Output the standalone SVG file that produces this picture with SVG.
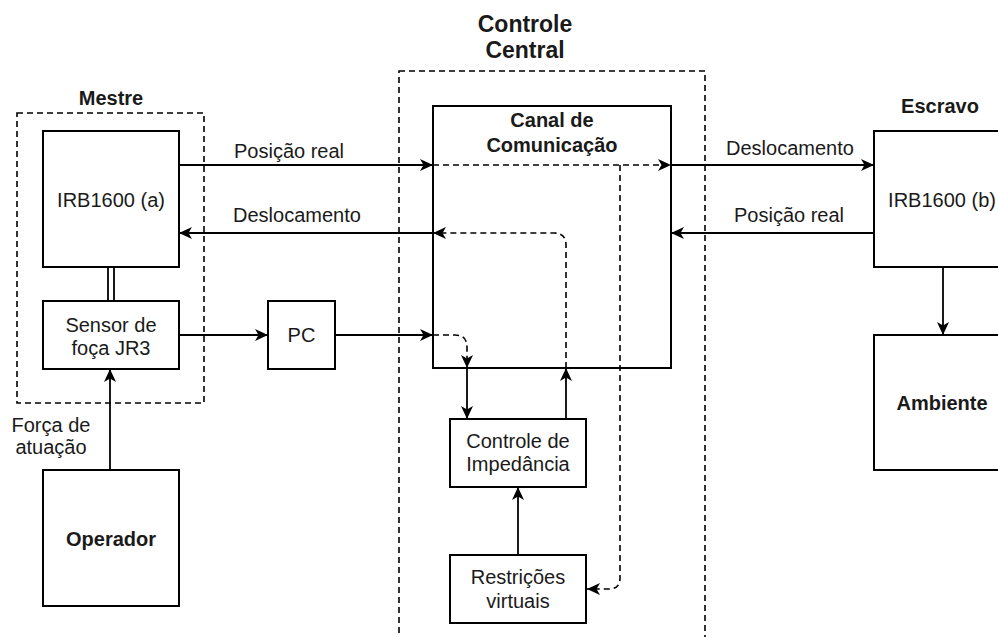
<svg xmlns="http://www.w3.org/2000/svg" width="998" height="637" viewBox="0 0 998 637">
<style>
  .box { fill: #fff; stroke: #000; stroke-width: 2; }
  .grp { fill: none; stroke: #000; stroke-width: 1.6; stroke-dasharray: 6 4; }
  .ln { fill: none; stroke: #000; stroke-width: 1.8; }
  .dl { fill: none; stroke: #000; stroke-width: 1.6; stroke-dasharray: 6 4; }
  text { font-family: "Liberation Sans", Arial, sans-serif; font-size: 20px; fill: #1a1a1a; }
  .b { font-weight: bold; font-size: 20px; }
  .t { font-weight: bold; font-size: 23px; }
  .m { text-anchor: middle; }
</style>
<defs>
  <marker id="arr" markerUnits="userSpaceOnUse" markerWidth="16" markerHeight="14" refX="14" refY="7" orient="auto">
    <path d="M1,1 L14,7 L1,13 L4.5,7 Z" fill="#000"/>
  </marker>
</defs>
<rect width="998" height="637" fill="#fff"/>

<g id="groups">
  <rect id="mestre-group" class="grp" x="17" y="113" width="187" height="290"/>
  <rect id="central-group" class="grp" x="399" y="71" width="306" height="600"/>
</g>

<g id="labels">
  <text class="b m" x="111" y="105">Mestre</text>
  <text class="t m" x="525" y="32">Controle</text>
  <text class="t m" x="525" y="58">Central</text>
  <text class="b m" x="940" y="113">Escravo</text>
</g>

<g id="irb-a"><rect class="box" x="43" y="131" width="136" height="136"/><text class="m" x="111" y="207">IRB1600 (a)</text></g>
<g id="sensor"><rect class="box" x="43" y="301" width="136" height="68"/><text class="m" x="111" y="332">Sensor de</text><text class="m" x="111" y="355">foça JR3</text></g>
<g id="pc"><rect class="box" x="268" y="301" width="67" height="68"/><text class="m" x="301.5" y="342">PC</text></g>
<g id="operador"><rect class="box" x="43" y="470" width="136" height="136"/><text class="b m" x="111" y="546">Operador</text></g>
<g id="canal"><rect class="box" x="433" y="106" width="238" height="262"/><text class="b m" x="552" y="127">Canal de</text><text class="b m" x="552" y="152">Comunicação</text></g>
<g id="impedancia"><rect class="box" x="450" y="419" width="136" height="68"/><text class="m" x="518" y="448">Controle de</text><text class="m" x="518" y="471">Impedância</text></g>
<g id="restricoes"><rect class="box" x="450" y="555" width="136" height="68"/><text class="m" x="518" y="584">Restrições</text><text class="m" x="518" y="608">virtuais</text></g>
<g id="irb-b"><rect class="box" x="874" y="131" width="136" height="136"/><text class="m" x="942" y="207">IRB1600 (b)</text></g>
<g id="ambiente"><rect class="box" x="874" y="335" width="136" height="135"/><text class="b m" x="942" y="410">Ambiente</text></g>

<g id="connectors">
  <path class="ln" d="M179,165 H433" marker-end="url(#arr)"/>
  <path class="dl" d="M433,165 H671" marker-end="url(#arr)"/>
  <path class="ln" d="M671,165 H874" marker-end="url(#arr)"/>
  <path class="ln" d="M874,233 H671" marker-end="url(#arr)"/>
  <path class="ln" d="M433,233 H179" marker-end="url(#arr)"/>
  <path class="dl" d="M566,368 V245 Q566,233 554,233 H433" marker-end="url(#arr)"/>
  <path class="ln" d="M179,335 H268" marker-end="url(#arr)"/>
  <path class="ln" d="M335,335 H433" marker-end="url(#arr)"/>
  <path class="dl" d="M433,335 H455 Q467,335 467,347 V368" marker-end="url(#arr)"/>
  <path class="ln" d="M467,368 V419" marker-end="url(#arr)"/>
  <path class="ln" d="M566,419 V368" marker-end="url(#arr)"/>
  <path class="ln" d="M518,555 V487" marker-end="url(#arr)"/>
  <path class="dl" d="M620,165 V578 Q620,589 609,589 H587" marker-end="url(#arr)"/>
  <path class="ln" d="M110,470 V369" marker-end="url(#arr)"/>
  <path class="ln" d="M943,267 V335" marker-end="url(#arr)"/>
  <path class="ln" d="M108,267 V301 M114,267 V301"/>
  <text x="234" y="158">Posição real</text>
  <text x="233" y="222">Deslocamento</text>
  <text x="726" y="155">Deslocamento</text>
  <text x="734" y="222">Posição real</text>
  <text class="m" x="51" y="432">Força de</text>
  <text class="m" x="51" y="454">atuação</text>
</g>
</svg>
